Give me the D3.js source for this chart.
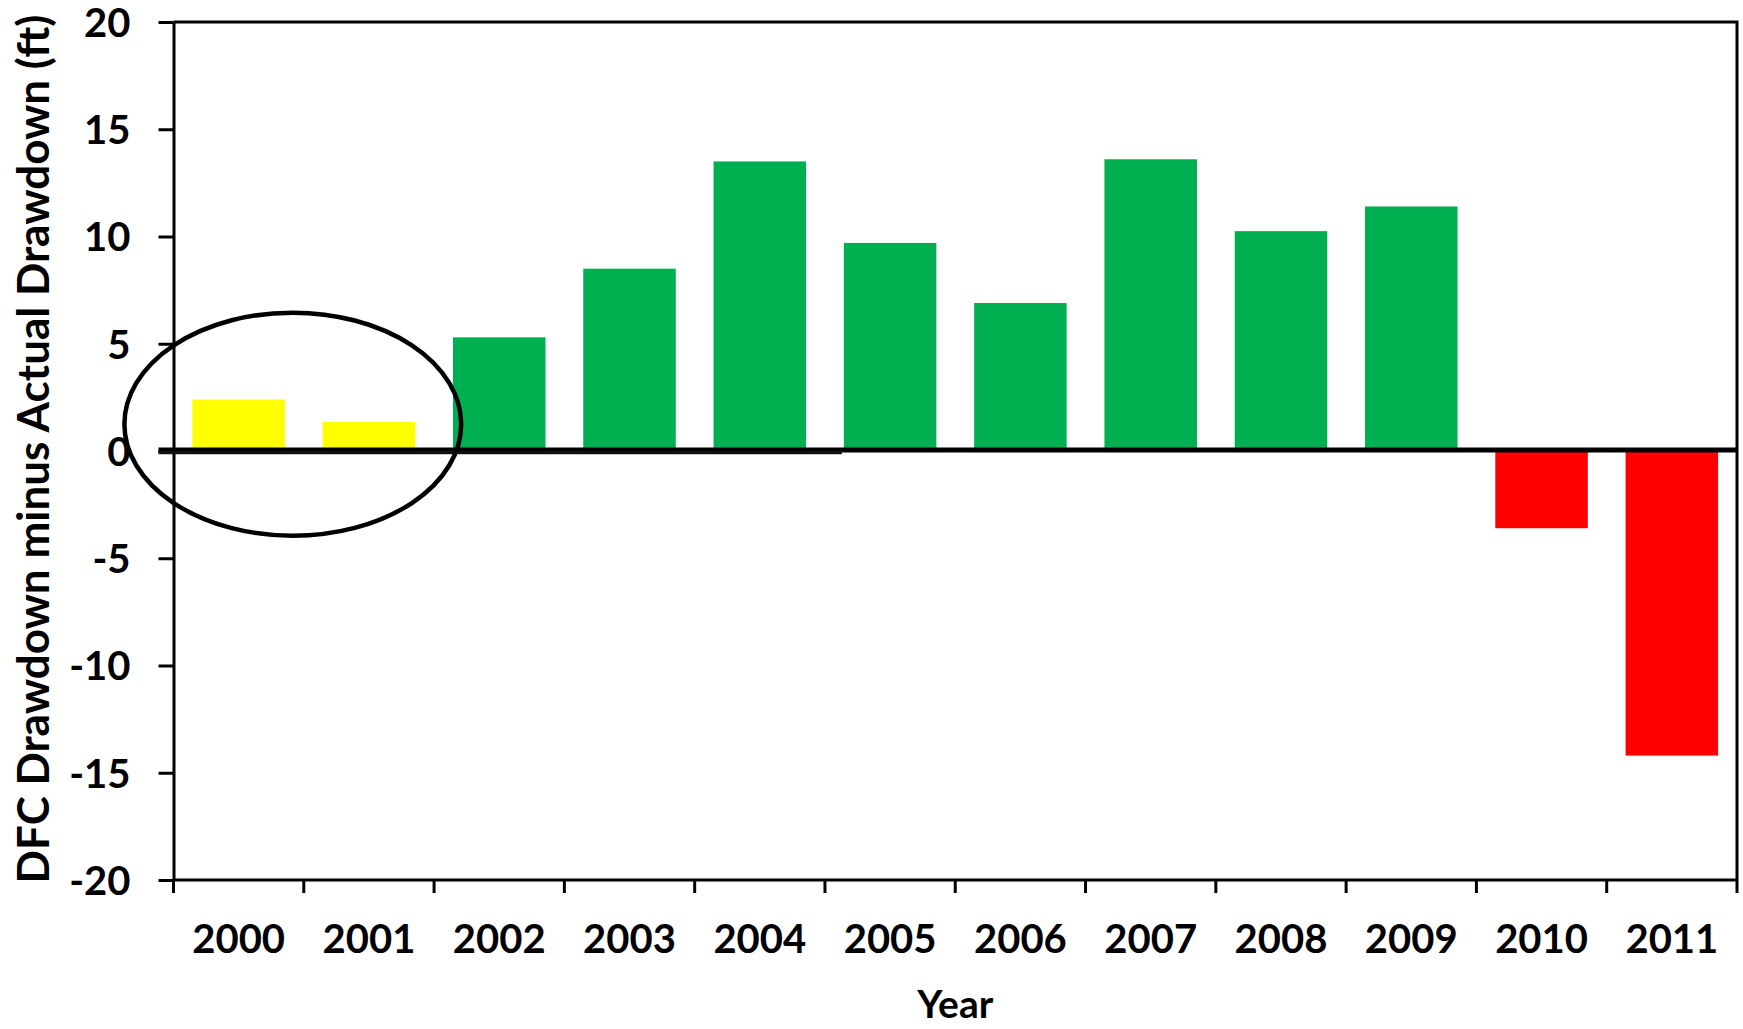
<!DOCTYPE html>
<html>
<head>
<meta charset="utf-8">
<script src="https://cdn.jsdelivr.net/npm/d3@7"></script>
<style>
  html, body { margin: 0; padding: 0; background: #fff; }
  svg { display: block; }
  text { font-family: Lato, "Open Sans", sans-serif; font-weight: 700; fill: #000; }
</style>
</head>
<body>
<svg id="chart" width="1743" height="1029"></svg>
<script>
// Yearly difference between DFC drawdown and actual drawdown (ft)
const years = ["2000", "2001", "2002", "2003", "2004", "2005", "2006", "2007", "2008", "2009", "2010", "2011"];
const diffFt = [2.4, 1.35, 5.3, 8.5, 13.5, 9.7, 6.9, 13.6, 10.25, 11.4, -3.6, -14.2];
const barColors = ["#FFFF00", "#FFFF00", "#00B050", "#00B050", "#00B050", "#00B050", "#00B050", "#00B050", "#00B050", "#00B050", "#FF0000", "#FF0000"];
const yTicks = [-20, -15, -10, -5, 0, 5, 10, 15, 20];
const yTitle = "DFC Drawdown minus Actual Drawdown (ft)";
const xTitle = "Year";
// Years singled out with an outline
const highlighted = ["2000", "2001"];

const svg = d3.select("#chart");
const margin = { left: 173.5, right: 6, top: 22, bottom: 149 };
const W = +svg.attr("width"), H = +svg.attr("height");
const x0 = margin.left, x1 = W - margin.right;
const yTop = margin.top, yBot = H - margin.bottom;

const x = d3.scaleBand().domain(years).range([x0, x1])
  .paddingInner(0.29).paddingOuter(0.145);
const y = d3.scaleLinear().domain([-20, 20]).range([yBot, yTop]);

// Bars
svg.append("g").selectAll("rect")
  .data(years.map((yr, i) => ({ yr, v: diffFt[i], c: barColors[i] })))
  .join("rect")
  .attr("x", d => x(d.yr))
  .attr("width", x.bandwidth())
  .attr("y", d => y(Math.max(0, d.v)))
  .attr("height", d => Math.abs(y(d.v) - y(0)))
  .attr("fill", d => d.c);

// Frame (top and right edges)
svg.append("path")
  .attr("d", `M${x0},${yTop}H${x1}V${yBot}`)
  .attr("fill", "none").attr("stroke", "#000").attr("stroke-width", 3);

// Y axis (plain hyphen for negatives)
const yAxis = svg.append("g")
  .attr("transform", `translate(${x0},0)`)
  .call(d3.axisLeft(y).tickValues(yTicks).tickFormat(d => String(d))
    .tickSizeInner(15).tickSizeOuter(0).tickPadding(28));
yAxis.select(".domain").attr("stroke-width", 3);
yAxis.selectAll(".tick line").attr("stroke-width", 3);
yAxis.selectAll(".tick text").style("font-size", "40px").attr("dy", "0.36em");

// X axis: labels centred in each year, ticks at the year boundaries
const xAxis = svg.append("g")
  .attr("transform", `translate(0,${yBot})`)
  .call(d3.axisBottom(x).tickSize(0).tickPadding(45));
xAxis.select(".domain").remove();
xAxis.selectAll(".tick text").style("font-size", "40px");

svg.append("line")
  .attr("x1", x0).attr("x2", x1).attr("y1", yBot).attr("y2", yBot)
  .attr("stroke", "#000").attr("stroke-width", 3);
const step = x.step();
const bounds = d3.range(years.length + 1).map(i => x0 + i * step);
svg.append("g").selectAll("line").data(bounds).join("line")
  .attr("x1", d => d).attr("x2", d => d)
  .attr("y1", yBot).attr("y2", yBot + 13)
  .attr("stroke", "#000").attr("stroke-width", 3);

// Zero line
svg.append("line")
  .attr("x1", x0 - 15).attr("x2", x1).attr("y1", y(0) - 1).attr("y2", y(0) - 1)
  .attr("stroke", "#000").attr("stroke-width", 5);
svg.append("line")
  .attr("x1", x0 - 15).attr("x2", x(years[5]) - 2).attr("y1", y(0) + 1.5).attr("y2", y(0) + 1.5)
  .attr("stroke", "#111").attr("stroke-width", 3.5);

// Outline around the highlighted years
const hx0 = x(highlighted[0]), hx1 = x(highlighted[highlighted.length - 1]) + x.bandwidth();
svg.append("ellipse")
  .attr("cx", (hx0 + hx1) / 2 - 11)
  .attr("cy", y(1.25))
  .attr("rx", (hx1 - hx0) / 2 + 57)
  .attr("ry", y(-5.2) - y(0))
  .attr("fill", "none").attr("stroke", "#000").attr("stroke-width", 4.5);

// Axis titles
svg.append("text")
  .attr("transform", `translate(34,449) rotate(-90)`)
  .attr("text-anchor", "middle").attr("dy", "0.35em")
  .style("font-size", "44px")
  .text(yTitle);
svg.append("text")
  .attr("x", (x0 + x1) / 2).attr("y", 1004)
  .attr("text-anchor", "middle").attr("dy", "0.35em")
  .style("font-size", "39px")
  .text(xTitle);
</script>
</body>
</html>
